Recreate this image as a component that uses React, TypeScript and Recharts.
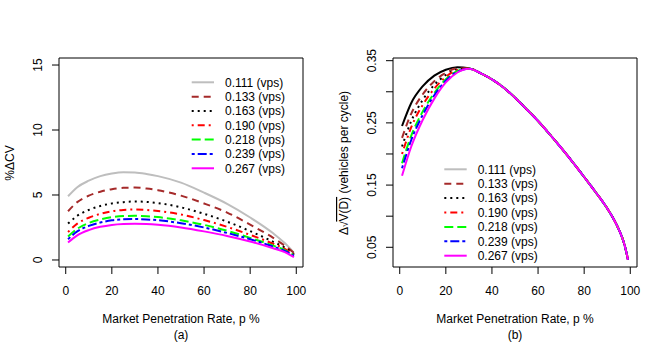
import { LineChart, Line, XAxis, YAxis, ReferenceArea } from 'recharts';

const FONT = '"Liberation Sans", Arial, Helvetica, sans-serif';

// x positions (market penetration rate, %)
const leftX = [1, 5, 10, 15, 20, 25, 30, 35, 40, 50, 60, 70, 80, 90, 95, 99];
const rightX = [1, 5, 10, 15, 20, 25, 30, 35, 40, 45, 50, 55, 60, 65, 70, 75, 80, 85, 90, 93, 95, 97, 98, 99];

// panel (a): %ΔCV
const cv111 = [4.9, 5.6, 6.1, 6.45, 6.65, 6.75, 6.73, 6.62, 6.45, 5.95, 5.18, 4.32, 3.27, 2.05, 1.3, 0.55];
const cv133 = [3.75, 4.45, 4.95, 5.25, 5.45, 5.55, 5.57, 5.5, 5.37, 4.95, 4.35, 3.65, 2.72, 1.7, 1.1, 0.55];
const cv163 = [2.8, 3.4, 3.85, 4.15, 4.35, 4.45, 4.5, 4.47, 4.38, 4.05, 3.55, 2.95, 2.22, 1.4, 0.95, 0.45];
const cv190 = [2.15, 2.8, 3.25, 3.55, 3.75, 3.85, 3.88, 3.85, 3.77, 3.5, 3.07, 2.55, 1.93, 1.25, 0.85, 0.4];
const cv218 = [1.8, 2.4, 2.85, 3.12, 3.3, 3.38, 3.4, 3.37, 3.3, 3.05, 2.7, 2.25, 1.7, 1.1, 0.75, 0.35];
const cv239 = [1.6, 2.2, 2.62, 2.88, 3.05, 3.13, 3.15, 3.12, 3.06, 2.83, 2.5, 2.08, 1.6, 1.03, 0.7, 0.33];
const cv267 = [1.35, 1.9, 2.3, 2.55, 2.7, 2.77, 2.79, 2.77, 2.71, 2.5, 2.2, 1.85, 1.42, 0.9, 0.6, 0.22];

// panel (b): Δ√V(D), vehicles per cycle
const dv111 = [0.245, 0.282, 0.309, 0.326, 0.3355, 0.3395, 0.338, 0.33, 0.32, 0.307, 0.2905, 0.272, 0.253, 0.232, 0.21, 0.187, 0.163, 0.1385, 0.1125, 0.094, 0.079, 0.06, 0.047, 0.03];
const dv133 = [0.226, 0.265, 0.296, 0.317, 0.3306, 0.3375, 0.3378, 0.33, 0.32, 0.307, 0.2905, 0.272, 0.253, 0.232, 0.21, 0.187, 0.163, 0.1385, 0.1125, 0.094, 0.079, 0.06, 0.047, 0.03];
const dv163 = [0.212, 0.253, 0.287, 0.311, 0.327, 0.336, 0.3376, 0.33, 0.32, 0.307, 0.2905, 0.272, 0.253, 0.232, 0.21, 0.187, 0.163, 0.1385, 0.1125, 0.094, 0.079, 0.06, 0.047, 0.03];
const dv190 = [0.2, 0.243, 0.279, 0.305, 0.324, 0.335, 0.3374, 0.33, 0.32, 0.307, 0.2905, 0.272, 0.253, 0.232, 0.21, 0.187, 0.163, 0.1385, 0.1125, 0.094, 0.079, 0.06, 0.047, 0.03];
const dv218 = [0.185, 0.2295, 0.2685, 0.298, 0.32, 0.333, 0.3372, 0.33, 0.32, 0.307, 0.2905, 0.272, 0.253, 0.232, 0.21, 0.187, 0.163, 0.1385, 0.1125, 0.094, 0.079, 0.06, 0.047, 0.03];
const dv239 = [0.177, 0.2225, 0.263, 0.2945, 0.318, 0.332, 0.3372, 0.33, 0.32, 0.307, 0.2905, 0.272, 0.253, 0.232, 0.21, 0.187, 0.163, 0.1385, 0.1125, 0.094, 0.079, 0.06, 0.047, 0.03];
const dv267 = [0.165, 0.212, 0.255, 0.289, 0.315, 0.331, 0.337, 0.33, 0.32, 0.307, 0.2905, 0.272, 0.253, 0.232, 0.21, 0.187, 0.163, 0.1385, 0.1125, 0.094, 0.079, 0.06, 0.047, 0.03];

const labels = ['0.111 (vps)', '0.133 (vps)', '0.163 (vps)', '0.190 (vps)', '0.218 (vps)', '0.239 (vps)', '0.267 (vps)'];
const xTicks = [0, 20, 40, 60, 80, 100];
const leftYTicks = [0, 5, 10, 15];
const rightYTicks = [0.05, 0.1, 0.15, 0.2, 0.25, 0.3, 0.35];
const rightYLabelled = [0.05, 0.15, 0.25, 0.35];

const styles = [
  { color: '#BEBEBE', dash: undefined },
  { color: '#A52A2A', dash: '7 5' },
  { color: '#000000', dash: '2 4' },
  { color: '#FF0000', dash: '2 4 7 4' },
  { color: '#00FF00', dash: '9 4' },
  { color: '#0000FF', dash: '3 3 9 3' },
  { color: '#FF00FF', dash: undefined },
];

const keys = ['s0', 's1', 's2', 's3', 's4', 's5', 's6'];

const leftData = leftX.map((x, i) => ({
  x, s0: cv111[i], s1: cv133[i], s2: cv163[i], s3: cv190[i], s4: cv218[i], s5: cv239[i], s6: cv267[i],
}));
const rightData = rightX.map((x, i) => ({
  x, s0: dv111[i], s1: dv133[i], s2: dv163[i], s3: dv190[i], s4: dv218[i], s5: dv239[i], s6: dv267[i],
}));

const W = 334;
const H = 342;
const X_DOMAIN: [number, number] = [-2.92, 102.92];

function YTick(props: any) {
  const { x, y, payload, only } = props;
  if (only && !only.includes(payload.value)) return null;
  const bx = x - 7.5;
  return (
    <text x={bx} y={y} transform={`rotate(-90, ${bx}, ${y})`} textAnchor="middle"
      fontSize={12} fontFamily={FONT} fill="#000">
      {payload.value}
    </text>
  );
}

function LegendBox({ lineX1, lineX2, textX, top, gap, firstColor }: any) {
  return (
    <g>
      {labels.map((lab, i) => {
        const y = top + i * gap;
        const st = styles[i];
        return (
          <g key={lab}>
            <line x1={lineX1} x2={lineX2} y1={y} y2={y} stroke={i === 0 && firstColor ? firstColor : st.color}
              strokeWidth={2} strokeDasharray={st.dash} />
            <text x={textX} y={y + 4.3} fontSize={12} fontFamily={FONT} fill="#000">{lab}</text>
          </g>
        );
      })}
    </g>
  );
}

function Panel({ data, yDomain, yTicks, only, yTitle, tag, legend, firstLineColor }: any) {
  return (
    <div style={{ position: 'relative', width: W, height: H }}>
      <LineChart width={W} height={H} data={data} margin={{ top: 58, right: 31, left: 0, bottom: 0 }}>
        <XAxis dataKey="x" type="number" domain={X_DOMAIN} ticks={xTicks} interval={0}
          axisLine={false} tickSize={7} tickMargin={12} height={75} allowDataOverflow
          tickLine={{ stroke: '#000' }} tick={{ fill: '#000', fontSize: 12, fontFamily: FONT }} />
        <YAxis type="number" domain={yDomain} ticks={yTicks} interval={0} width={59}
          axisLine={false} tickSize={7} allowDataOverflow
          tickLine={{ stroke: '#000' }} tick={<YTick only={only} />} />
        <ReferenceArea x1={X_DOMAIN[0]} x2={X_DOMAIN[1]} y1={yDomain[0]} y2={yDomain[1]}
          fill="none" stroke="#000" strokeWidth={1} ifOverflow="visible" />
        {keys.map((k, i) => (
          <Line key={k} dataKey={k} type="monotone" dot={false} isAnimationActive={false}
            stroke={i === 0 && firstLineColor ? firstLineColor : styles[i].color}
            strokeWidth={2} strokeDasharray={styles[i].dash} />
        ))}
      </LineChart>
      <svg width={W} height={H} style={{ position: 'absolute', left: 0, top: 0, pointerEvents: 'none' }}>
        <LegendBox {...legend} />
        <text x={14} y={163} transform="rotate(-90, 14, 163)" textAnchor="middle" fontSize={12} fontFamily={FONT} fill="#000">
          {yTitle}
        </text>
        <text x={181} y={322.5} textAnchor="middle" fontSize={12} fontFamily={FONT} fill="#000">
          Market Penetration Rate, p %
        </text>
        <text x={181} y={338.5} textAnchor="middle" fontSize={12} fontFamily={FONT} fill="#000">
          {tag}
        </text>
      </svg>
    </div>
  );
}

export default function App() {
  return (
    <div style={{ position: 'absolute', left: 0, top: 0, width: 668, height: 342, display: 'flex', background: '#fff' }}>
      <Panel data={leftData} yDomain={[-0.54, 15.54]} yTicks={leftYTicks} only={null}
        yTitle="%ΔCV" tag="(a)"
        legend={{ lineX1: 191.7, lineX2: 214, textX: 225, top: 82.3, gap: 14.33 }} />
      <Panel data={rightData} yDomain={[0.0183, 0.3543]} yTicks={rightYTicks} only={rightYLabelled}
        yTitle={<>Δ<tspan fontSize={10}>√</tspan><tspan textDecoration="overline">V(D)</tspan>  (vehicles per cycle)</>}
        tag="(b)" firstLineColor="#000000"
        legend={{ lineX1: 110.3, lineX2: 132.7, textX: 143.7, top: 169.3, gap: 14.4 }} />
    </div>
  );
}
